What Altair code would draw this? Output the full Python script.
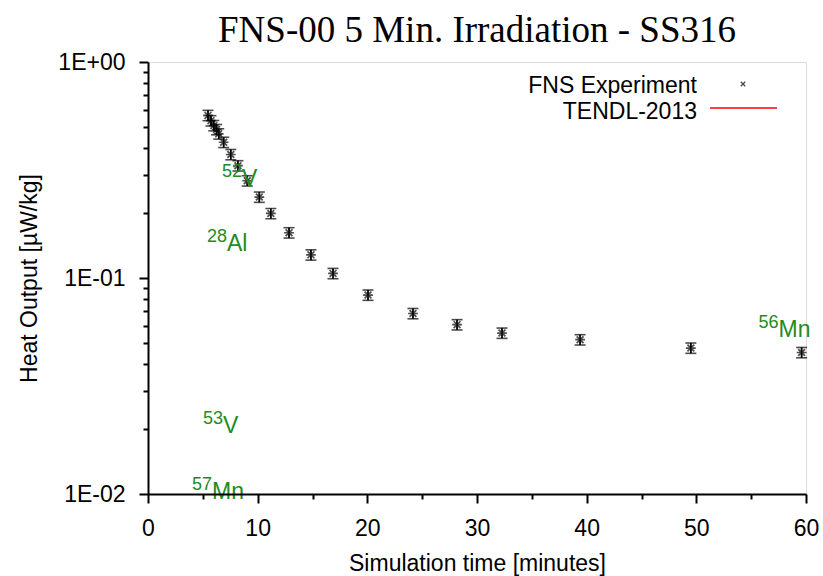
import altair as alt
import pandas as pd

# Experimental data (FNS Experiment)
time_min = [5.47, 5.74, 6.0, 6.25, 6.45, 6.9, 7.55, 8.2, 9.05, 10.15, 11.2,
            12.86, 14.86, 16.87, 20.06, 24.16, 28.18, 32.28, 39.4, 49.5, 59.6]
heat = [0.566, 0.535, 0.508, 0.487, 0.465, 0.425, 0.373, 0.331, 0.282, 0.237, 0.199,
        0.162, 0.128, 0.105, 0.0834, 0.0685, 0.0608, 0.0556, 0.0518, 0.0474, 0.0452]
rel_err = 0.055

# Nuclide annotations (data coordinates)
nuc_mass = ["52", "28", "53", "57", "56"]
nuc_elem = ["V", "Al", "V", "Mn", "Mn"]
nuc_x = [8.57, 7.2, 6.84, 5.84, 57.5]
nuc_y = [0.2667, 0.1334, 0.0192, 0.00948, 0.0533]

legend_labels = ["FNS Experiment", "TENDL-2013"]

y_ticks = [0.01, 0.02, 0.03, 0.04, 0.05, 0.06, 0.07, 0.08, 0.09,
           0.1, 0.2, 0.3, 0.4, 0.5, 0.6, 0.7, 0.8, 0.9, 1]
x_ticks = [0, 5, 10, 15, 20, 25, 30, 35, 40, 45, 50, 55, 60]

df = pd.DataFrame({"t": time_min, "h": heat})
df["lo"] = df["h"] * (1 - rel_err)
df["hi"] = df["h"] * (1 + rel_err)

nuc = pd.DataFrame({"mass": nuc_mass, "elem": nuc_elem, "x": nuc_x, "y": nuc_y})

SANS = "Liberation Sans"
GREEN = "#228b22"

xscale = alt.Scale(domain=[0, 60], nice=False, zero=False)
yscale = alt.Scale(type="log", domain=[0.01, 1], nice=False)

xaxis = alt.Axis(
    title="Simulation time [minutes]", values=x_ticks,
    labelExpr="datum.value % 10 == 0 ? datum.label : ''",
    tickSize={"condition": {"test": "datum.value % 10 == 0", "value": 9}, "value": 5},
    tickColor="black", tickWidth=2, domainColor="black", domainWidth=2,
    labelFont=SANS, labelFontSize=23, labelColor="black", labelPadding=14,
    titleFont=SANS, titleFontSize=23, titleFontWeight="normal", titleColor="black",
    titlePadding=12, grid=False, labelFlush=False, zindex=1,
)
yaxis = alt.Axis(
    title="Heat Output [µW/kg]", values=y_ticks,
    labelExpr="datum.value == 1 ? '1E+00' : datum.value == 0.1 ? '1E-01' : datum.value == 0.01 ? '1E-02' : ''",
    tickSize={"condition": {"test": "datum.value == 1 || datum.value == 0.1 || datum.value == 0.01", "value": 9}, "value": 5},
    tickColor="black", tickWidth=2, domainColor="black", domainWidth=2,
    labelFont=SANS, labelFontSize=23, labelColor="black", labelPadding=14,
    titleFont=SANS, titleFontSize=23, titleFontWeight="normal", titleColor="black",
    titlePadding=16, grid=False, labelFlush=False, zindex=1,
)

base = alt.Chart(df)

bars = base.mark_rule(color="black", strokeWidth=1.5).encode(
    x=alt.X("t:Q", scale=xscale, axis=xaxis),
    y=alt.Y("lo:Q", scale=yscale, axis=yaxis),
    y2="hi:Q",
)
cap_lo = base.mark_tick(color="black", orient="horizontal", size=11, thickness=1.6).encode(
    x="t:Q", y="lo:Q")
cap_hi = base.mark_tick(color="black", orient="horizontal", size=11, thickness=1.6).encode(
    x="t:Q", y="hi:Q")

star = "M-1,0L1,0M0,-1L0,1M-0.7,-0.7L0.7,0.7M-0.7,0.7L0.7,-0.7"
pts = base.mark_point(shape=star, filled=False, color="black", strokeWidth=1.7, size=95).encode(
    x="t:Q", y="h:Q")

nbase = alt.Chart(nuc)
sup = nbase.mark_text(color=GREEN, font=SANS, fontSize=18, align="right", baseline="alphabetic", dy=-9).encode(
    x="x:Q", y="y:Q", text="mass:N")
elem = nbase.mark_text(color=GREEN, font=SANS, fontSize=23, align="left", baseline="alphabetic").encode(
    x="x:Q", y="y:Q", text="elem:N")

# Legend (drawn manually: labels right-aligned, symbol to the right)
leg_df = pd.DataFrame({"lab": legend_labels})
leg1 = alt.Chart(leg_df).transform_filter(alt.datum.lab == legend_labels[0]).mark_text(
    font=SANS, fontSize=23, align="right", baseline="alphabetic", color="black").encode(
    x=alt.value(549), y=alt.value(31), text="lab:N")
leg2 = alt.Chart(leg_df).transform_filter(alt.datum.lab == legend_labels[1]).mark_text(
    font=SANS, fontSize=23, align="right", baseline="alphabetic", color="black").encode(
    x=alt.value(549), y=alt.value(57), text="lab:N")
leg_x = alt.Chart(leg_df).transform_filter(alt.datum.lab == legend_labels[0]).mark_point(
    shape="M-1,-1L1,1M-1,1L1,-1", filled=False, color="black", strokeWidth=1.3, size=20).encode(
    x=alt.value(595), y=alt.value(22))
leg_line = alt.Chart(leg_df).transform_filter(alt.datum.lab == legend_labels[1]).mark_rule(
    color="#ff0000", strokeWidth=1.5).encode(
    x=alt.value(562), x2=alt.value(629), y=alt.value(46))

chart = alt.layer(bars, cap_lo, cap_hi, pts, sup, elem, leg1, leg2, leg_x, leg_line).properties(
    width=658, height=432,
    title=alt.TitleParams(
        "FNS-00 5 Min. Irradiation - SS316", font="Liberation Serif", fontSize=37,
        fontWeight="normal", color="black", anchor="middle", baseline="alphabetic",
        frame="group", offset=0, dx=0, dy=28),
    autosize=alt.AutoSizeParams(type="none"),
    padding={"left": 148, "top": 62, "right": 17, "bottom": 82},
).configure_view(stroke="black", strokeWidth=2).configure(background="white")

chart.save("out.html", embed_options={"renderer": "svg", "actions": False})
